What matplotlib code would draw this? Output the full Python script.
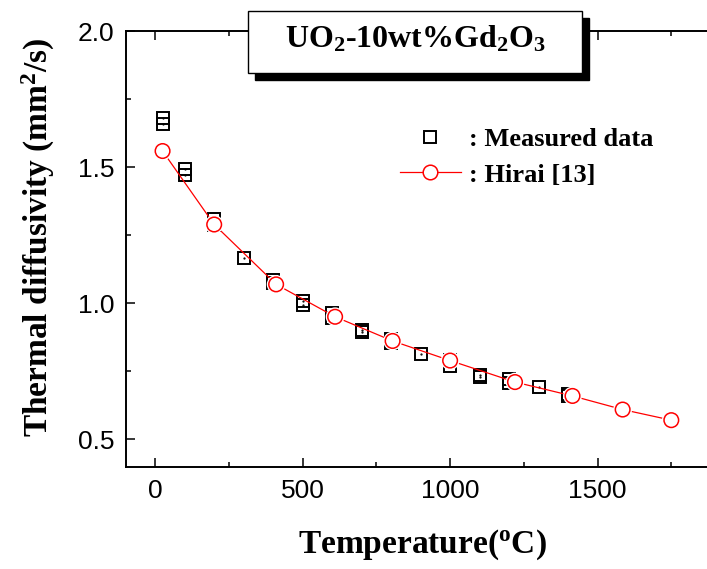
import matplotlib
matplotlib.use('Agg')
import matplotlib.pyplot as plt
import matplotlib.patheffects as pe
from matplotlib.lines import Line2D
from matplotlib.patches import Rectangle
from matplotlib.ticker import MultipleLocator

plt.rcParams['mathtext.fontset'] = 'custom'
plt.rcParams['mathtext.rm'] = 'Liberation Serif:bold'
plt.rcParams['mathtext.bf'] = 'Liberation Serif:bold'
plt.rcParams['mathtext.it'] = 'Liberation Serif:bold:italic'

# measured thermal diffusivity (two runs at most temperatures)
meas_T = [25, 25, 100, 100, 200, 200, 300, 400, 400, 500, 500, 600, 600,
          700, 700, 800, 800, 900, 1000, 1000, 1100, 1100, 1200, 1200, 1300, 1400, 1400]
meas_D = [1.680, 1.661, 1.493, 1.472, 1.310, 1.290, 1.168, 1.086, 1.074, 1.008, 0.996,
          0.963, 0.945, 0.902, 0.896, 0.871, 0.853, 0.815, 0.792, 0.770, 0.736, 0.731,
          0.724, 0.706, 0.693, 0.667, 0.658]

# Hirai [13] correlation
hirai_T = [25, 200, 410, 610, 805, 1000, 1220, 1415, 1585, 1750]
hirai_D = [1.560, 1.290, 1.070, 0.951, 0.862, 0.790, 0.711, 0.660, 0.610, 0.571]

x_ticks = [0, 500, 1000, 1500]

serif = 'Liberation Serif'
sans = 'Liberation Sans'

fig = plt.figure(figsize=(7.07, 5.69), dpi=100)
# axes runs past the right edge, the original figure is cropped there
ax = fig.add_axes([0.1778, 0.1798, 0.876, 0.7652])

ax.plot(meas_T, meas_D, ls='none', marker='s', ms=9.3, mfc='none', mec='black',
        mew=1.4, zorder=2)
ax.plot(meas_T, meas_D, ls='none', marker='.', ms=1.2, color='black', zorder=2)
ax.plot(hirai_T, hirai_D, color='red', lw=0.9, zorder=3)
ax.plot(hirai_T, hirai_D, ls='none', marker='o', ms=10.5, mfc='white', mec='red',
        mew=1.1, zorder=4,
        path_effects=[pe.Stroke(linewidth=3, foreground='white'), pe.Normal()])

ax.set_xlim(-100, 2000)
ax.set_ylim(0.4, 2.0)
ax.set_xticks(x_ticks)
ax.xaxis.set_minor_locator(MultipleLocator(250))
ax.yaxis.set_major_locator(MultipleLocator(0.5))
ax.yaxis.set_minor_locator(MultipleLocator(0.25))
ax.tick_params(which='both', direction='in', top=True, right=True, width=1.1)
ax.tick_params(which='major', length=6.5)
ax.tick_params(which='minor', length=3.6)
ax.tick_params(axis='y', which='major', pad=8)
ax.tick_params(axis='x', which='major', pad=9)
for lab in ax.get_xticklabels() + ax.get_yticklabels():
    lab.set_fontfamily(sans)
    lab.set_fontsize(19)
for s in ax.spines.values():
    s.set_linewidth(1.4)

fig.text(422 / 707, 1 - 545 / 569, r'Temperature($^{\mathbf{o}}$C)', fontfamily=serif,
         fontweight='bold', fontsize=24, ha='center', va='center')
fig.text(38 / 707, 1 - 237 / 569, r'Thermal diffusivity (mm$^{\mathbf{2}}$/s)',
         fontfamily=serif, fontweight='bold', fontsize=24, ha='center', va='center',
         rotation=90)

# title box with drop shadow
bx, by, bw, bh = 247.7 / 707, 1 - 72.7 / 569, 334.6 / 707, 62 / 569
fig.patches.append(Rectangle((bx + 7 / 707, by - 7 / 569), bw, bh, transform=fig.transFigure,
                             facecolor='black', edgecolor='black', zorder=5))
fig.patches.append(Rectangle((bx, by), bw, bh, transform=fig.transFigure,
                             facecolor='white', edgecolor='black', lw=1.0, zorder=6))
fig.text(416 / 707, 1 - 47 / 569, r'UO$_{\mathbf{2}}$-10wt%Gd$_{\mathbf{2}}$O$_{\mathbf{3}}$',
         fontfamily=serif, fontweight='bold', fontsize=23, ha='center', va='baseline',
         zorder=7)

handles = [
    Line2D([], [], ls='none', marker='s', ms=9.3, mfc='none', mec='black', mew=1.4),
    Line2D([], [], color='red', lw=0.9, marker='o', ms=10.5, mfc='white', mec='red', mew=1.1),
]
leg = ax.legend(handles, [': Measured data', ': Hirai [13]'], loc='upper left',
                bbox_to_anchor=(400 / 707, 1 - 128 / 569), bbox_transform=fig.transFigure,
                frameon=False, borderpad=0, borderaxespad=0, handlelength=2.3,
                handletextpad=0.3, labelspacing=0.44,
                prop={'family': serif, 'weight': 'bold', 'size': 19})

fig.savefig('out.png', dpi=100)
